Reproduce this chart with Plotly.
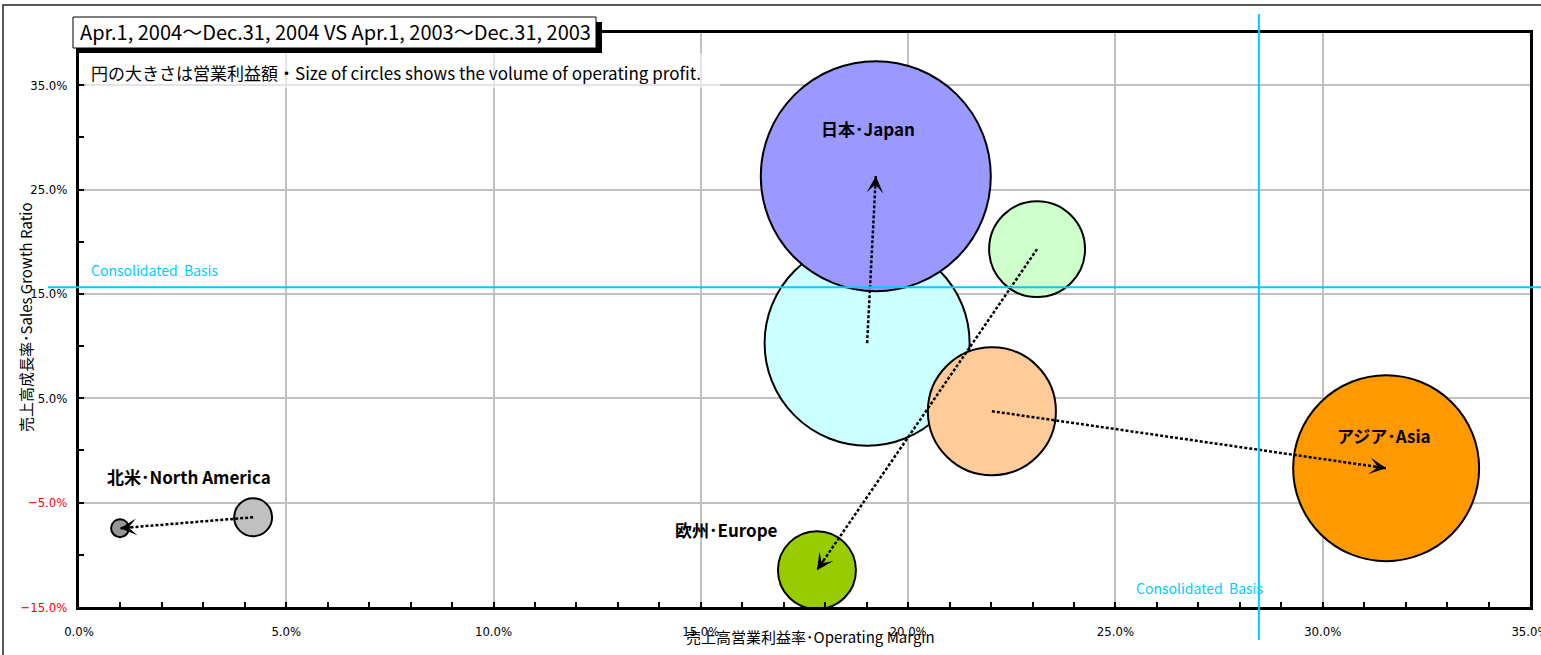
import math
import plotly.graph_objects as go

# ---------------- data ----------------
regions = ["日本･Japan", "欧州･Europe", "アジア･Asia", "北米･North America"]

# Apr.1, 2003 - Dec.31, 2003 (previous period)
margin_2003 = [19.01, 23.11, 22.02, 4.20]      # operating margin (%)
growth_2003 = [10.28, 19.29, 3.76, -6.40]      # sales growth ratio (%)
profit_2003 = [105.1, 23.0, 41.0, 3.6]         # operating profit (relative volume)

# Apr.1, 2004 - Dec.31, 2004 (current period)
margin_2004 = [19.22, 17.80, 31.53, 0.99]
growth_2004 = [26.28, -11.47, -1.70, -7.45]
profit_2004 = [132.3, 15.2, 86.5, 0.8]

# consolidated basis
consol_margin = 28.46
consol_growth = 15.63

x_tickvals = [0, 5, 10, 15, 20, 25, 30, 35]
x_ticktext = ["0.0%", "5.0%", "10.0%", "15.0%", "20.0%", "25.0%", "30.0%", "35.0%"]
y_tickvals = [-15, -5, 5, 15, 25, 35]
y_ticklabels = ["−15.0%", "−5.0%", "5.0%", "15.0%", "25.0%", "35.0%"]

# ---------------- style ----------------
colors_2003 = ["#CCFFFF", "#CCFFCC", "#FFCC99", "#C0C0C0"]
colors_2004 = ["#9999FF", "#99CC00", "#FF9900", "#969696"]
label_shift = [(-8, 48), (-90, 41), (-2, 33), (69, 52)]

W, H = 1541, 655
L, R, T, B = 79, 11, 33, 48
PW, PH = W - L - R, H - T - B
XR = [0, 35]
YR = [-15, 40]
ppx = PW / (XR[1] - XR[0])
ppy = PH / (YR[1] - YR[0])
MAX_R = 115
sizeref = max(profit_2003 + profit_2004) / (2 * MAX_R ** 2)

CJK = "Noto Sans CJK JP"
NARROW = "Liberation Sans Narrow, DejaVu Sans Condensed, Arial Narrow, sans-serif"
CYAN = "#00CCFF"


def px_x(px):
    return (px - L) / PW


def px_y(py):
    return (H - B - py) / PH


y_ticktext = [
    f'<span style="color:#FF0000">{t}</span>' if v < 0 else t
    for v, t in zip(y_tickvals, y_ticklabels)
]

fig = go.Figure()

fig.add_trace(go.Scatter(
    x=margin_2003, y=growth_2003, mode="markers", hoverinfo="skip",
    marker=dict(size=profit_2003, sizemode="area", sizeref=sizeref,
                color=colors_2003, opacity=1,
                line=dict(color="black", width=2)),
    showlegend=False))
fig.add_trace(go.Scatter(
    x=margin_2004, y=growth_2004, mode="markers", hoverinfo="skip",
    marker=dict(size=profit_2004, sizemode="area", sizeref=sizeref,
                color=colors_2004, opacity=1,
                line=dict(color="black", width=2)),
    showlegend=False))

annotations = []
for i in range(len(regions)):
    fig.add_trace(go.Scatter(
        x=[margin_2003[i], margin_2004[i]], y=[growth_2003[i], growth_2004[i]],
        mode="lines", hoverinfo="skip", showlegend=False,
        line=dict(color="black", width=2.5, dash="3px,2px")))
    dxp = (margin_2004[i] - margin_2003[i]) * ppx
    dyp = (growth_2004[i] - growth_2003[i]) * ppy
    n = math.hypot(dxp, dyp)
    ux, uy = dxp / n, dyp / n
    annotations.append(dict(
        x=margin_2004[i], y=growth_2004[i], xref="x", yref="y",
        ax=-ux * 14, ay=uy * 14, axref="pixel", ayref="pixel",
        text="", showarrow=True, arrowhead=3, arrowsize=1.4, arrowwidth=2,
        arrowcolor="black", standoff=0))
    annotations.append(dict(
        x=margin_2004[i], y=growth_2004[i], xref="x", yref="y",
        xshift=label_shift[i][0], yshift=label_shift[i][1],
        text=f"<b>{regions[i]}</b>", showarrow=False,
        font=dict(family=CJK, size=17, color="black")))

# consolidated basis texts
annotations.append(dict(
    x=px_x(89), y=consol_growth, xref="paper", yref="y", yshift=17,
    xanchor="left", yanchor="middle", showarrow=False,
    text="Consolidated\u00a0 Basis", font=dict(family=CJK, size=14, color=CYAN)))
annotations.append(dict(
    x=consol_margin, y=px_y(588), xref="x", yref="paper", xshift=6,
    xanchor="right", yanchor="middle", showarrow=False,
    text="Consolidated\u00a0 Basis", font=dict(family=CJK, size=14, color=CYAN)))

# title
annotations.append(dict(
    x=px_x(335), y=px_y(32), xref="paper", yref="paper",
    xanchor="center", yanchor="middle", showarrow=False,
    text="Apr.1, 2004～Dec.31, 2004 VS Apr.1, 2003～Dec.31, 2003",
    font=dict(family=CJK, size=20, color="black")))
# circle-size note
annotations.append(dict(
    x=px_x(89), y=px_y(72), xref="paper", yref="paper",
    xanchor="left", yanchor="middle", showarrow=False,
    text="円の大きさは営業利益額・Size of circles shows the volume of operating profit.",
    font=dict(family=CJK, size=17, color="black")))
# axis titles
annotations.append(dict(
    x=px_x(810), y=px_y(636), xref="paper", yref="paper",
    xanchor="center", yanchor="middle", showarrow=False,
    text="売上高営業利益率･Operating Margin",
    font=dict(family=CJK, size=15, color="black")))
annotations.append(dict(
    x=px_x(25), y=px_y(317), xref="paper", yref="paper", textangle=-90,
    xanchor="center", yanchor="middle", showarrow=False,
    text="売上高成長率･Sales Growth Ratio",
    font=dict(family=CJK, size=15, color="black")))

shapes = [
    # outer chart border
    dict(type="rect", xref="paper", yref="paper",
         x0=px_x(3), x1=px_x(1546), y0=px_y(5), y1=px_y(662),
         line=dict(color="#222222", width=1.5), layer="below"),
    # note box (semi-transparent)
    dict(type="rect", xref="paper", yref="paper",
         x0=px_x(86), x1=px_x(720), y0=px_y(53), y1=px_y(88),
         fillcolor="rgba(255,255,255,0.55)", line=dict(width=0), layer="above"),
    # consolidated lines
    dict(type="line", xref="paper", yref="y",
         x0=px_x(48), x1=px_x(1546), y0=consol_growth, y1=consol_growth,
         line=dict(color=CYAN, width=2), layer="above"),
    dict(type="line", xref="x", yref="paper",
         x0=consol_margin, x1=consol_margin, y0=px_y(14), y1=px_y(640),
         line=dict(color=CYAN, width=2), layer="above"),
    # title box shadow and box
    dict(type="rect", xref="paper", yref="paper",
         x0=px_x(79), x1=px_x(602), y0=px_y(22), y1=px_y(53),
         fillcolor="black", line=dict(width=0), layer="above"),
    dict(type="rect", xref="paper", yref="paper",
         x0=px_x(73), x1=px_x(596), y0=px_y(17), y1=px_y(48),
         fillcolor="white", line=dict(color="black", width=1), layer="above"),
]

fig.update_layout(
    width=W, height=H,
    margin=dict(l=L, r=R, t=T, b=B, autoexpand=False),
    paper_bgcolor="white", plot_bgcolor="white",
    font=dict(family=CJK, color="black"),
    showlegend=False,
    annotations=annotations,
    shapes=shapes,
    xaxis=dict(
        range=XR, tickmode="array", tickvals=x_tickvals, ticktext=x_ticktext,
        tickfont=dict(family=NARROW, size=13, color="black"),
        ticks="inside", ticklen=5, tickwidth=2, tickcolor="black",
        ticklabelstandoff=10, ticklabeloverflow="allow",
        showgrid=True, gridcolor="#C0C0C0", gridwidth=2,
        minor=dict(dtick=1, tick0=0, ticks="inside", ticklen=5, tickwidth=1.5,
                   tickcolor="black", showgrid=False),
        showline=True, linecolor="black", linewidth=3, mirror=True,
        zeroline=False, fixedrange=True),
    yaxis=dict(
        range=YR, tickmode="array", tickvals=y_tickvals, ticktext=y_ticktext,
        tickfont=dict(family=NARROW, size=13, color="black"),
        ticks="inside", ticklen=5, tickwidth=2, tickcolor="black",
        ticklabelstandoff=6, ticklabeloverflow="allow",
        showgrid=True, gridcolor="#C0C0C0", gridwidth=2,
        minor=dict(dtick=5, tick0=0, ticks="inside", ticklen=5, tickwidth=2,
                   tickcolor="black", showgrid=False),
        showline=True, linecolor="black", linewidth=3, mirror=True,
        zeroline=False, fixedrange=True),
)

fig.write_html("out.html")
